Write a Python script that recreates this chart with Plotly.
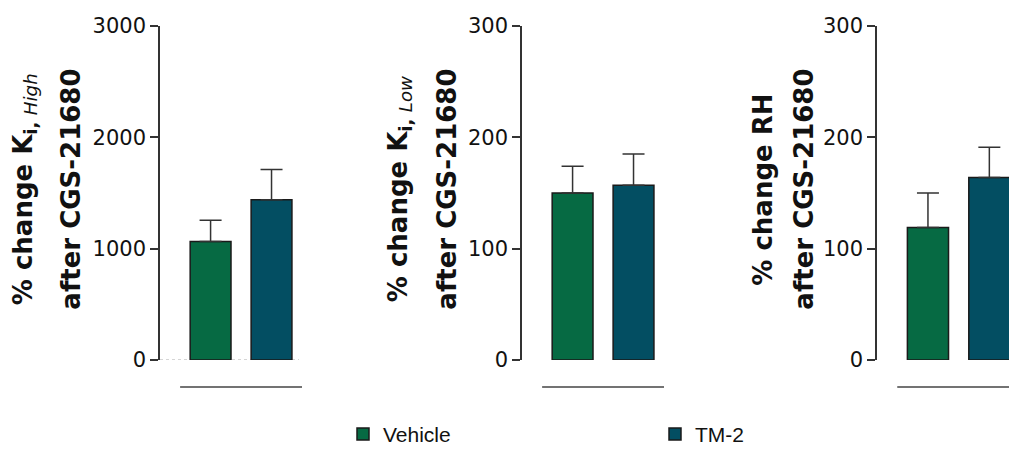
import plotly.graph_objects as go

# ---- data ----
groups = ["Vehicle", "TM-2"]
x_pos = [1, 2]
ki_high = [1065, 1440]
ki_high_err = [190, 272]
ki_low = [150, 157]
ki_low_err = [24, 28]
rh = [119, 164]
rh_err = [31, 27]
ticks_high = [0, 1000, 2000, 3000]
ticks_low = [0, 100, 200, 300]
ticks_rh = [0, 100, 200, 300]

colors = ["#066A43", "#034E62"]
W = 1009.0

fig = go.Figure()

panels = [
    ("x", "y", ki_high, ki_high_err),
    ("x2", "y2", ki_low, ki_low_err),
    ("x3", "y3", rh, rh_err),
]

for pi, (xa, ya, vals, errs) in enumerate(panels):
    for gi, g in enumerate(groups):
        fig.add_trace(go.Bar(
            x=[x_pos[gi]], y=[vals[gi]], name=g, width=0.67,
            marker=dict(color=colors[gi], line=dict(color="#1a1a1a", width=1.5)),
            error_y=dict(type="data", array=[errs[gi]], arrayminus=[0], symmetric=False,
                         color="#333333", thickness=1.5, width=11),
            xaxis=xa, yaxis=ya, legendgroup=g, showlegend=(pi == 0),
        ))

tickfont = dict(family="DejaVu Sans", size=21, color="#111111")
yax = dict(showline=True, linecolor="#333333", linewidth=1.5, ticks="outside", ticklen=8,
           tickwidth=1.5, tickcolor="#333333", showgrid=False, zeroline=False,
           tickfont=tickfont, domain=[0, 1])
xax = dict(visible=False, showgrid=False, zeroline=False)

fig.update_layout(
    width=1009, height=450,
    margin=dict(l=0, r=0, t=26, b=90, autoexpand=False),
    plot_bgcolor="white", paper_bgcolor="white",
    barmode="overlay",
    xaxis=dict(xax, domain=[160 / W, 302 / W], range=[0.17, 2.5], anchor="y"),
    xaxis2=dict(xax, domain=[522 / W, 664 / W], range=[0.17, 2.5], anchor="y2"),
    xaxis3=dict(xax, domain=[877 / W, 1.0], range=[0.17, 2.32], anchor="y3"),
    yaxis=dict(yax, range=[0, 3000], tickvals=ticks_high, anchor="x"),
    yaxis2=dict(yax, range=[0, 300], tickvals=ticks_low, anchor="x2"),
    yaxis3=dict(yax, range=[0, 300], tickvals=ticks_rh, anchor="x3"),
    legend=dict(orientation="h", x=343 / W, xanchor="left", y=-0.284, yanchor="bottom",
                font=dict(family="Liberation Sans", size=21, color="#111111"),
                entrywidth=267, entrywidthmode="pixels", bgcolor="rgba(0,0,0,0)"),
    showlegend=True,
)

# baseline dots and group lines
fig.add_shape(type="line", xref="x", yref="y", x0=0.17, x1=2.45, y0=0, y1=0,
              line=dict(color="#aaaaaa", width=1, dash="dot"), layer="below")
for xr, yr in [("x", "y"), ("x2", "y2"), ("x3", "y3")]:
    fig.add_shape(type="line", xref=xr, yref=yr + " domain", x0=0.5, x1=2.5,
                  y0=-0.081, y1=-0.081, line=dict(color="#444444", width=1.5))

titlefont = dict(family="DejaVu Sans", size=26, color="#111111")
titles = [
    ("<b>% change K<sub>i, </sub></b><sub><i>High</i></sub>", 6, "<b>after CGS-21680</b>", 54),
    ("<b>% change K<sub>i, </sub></b><sub><i>Low</i></sub>", 381, "<b>after CGS-21680</b>", 430),
    ("<b>% change RH</b>", 746, "<b>after CGS-21680</b>", 787),
]
for t1, x1, t2, x2 in titles:
    for t, xx in [(t1, x1), (t2, x2)]:
        fig.add_annotation(text=t, x=xx / W, y=0.51, xref="paper", yref="paper",
                           xanchor="left", yanchor="middle", textangle=-90,
                           showarrow=False, font=titlefont)

fig.write_html("out.html", config={"displayModeBar": False},
               post_script="document.body.style.margin='0';document.body.style.overflow='hidden';")
